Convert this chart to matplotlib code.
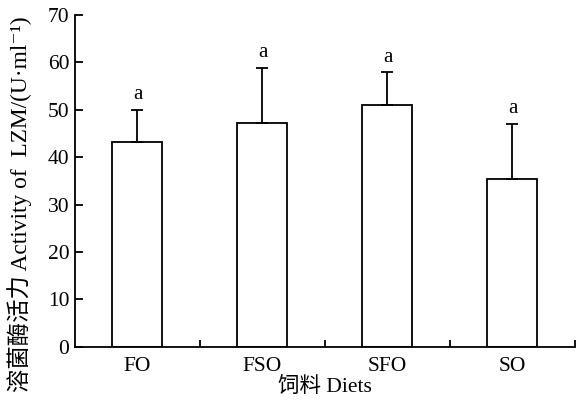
import matplotlib.pyplot as plt
import numpy as np

plt.rcParams['font.family'] = ['Liberation Serif', 'Noto Sans CJK SC', 'DejaVu Serif']

diets = ['FO', 'FSO', 'SFO', 'SO']
means = [43.2, 47.2, 51.0, 35.4]
errs = [6.8, 11.7, 6.9, 11.7]
letters = ['a', 'a', 'a', 'a']

fig = plt.figure(figsize=(5.79, 4.01), dpi=100)
ax = fig.add_axes([0.1295, 0.135, 0.8635, 0.8275])

x = np.arange(len(diets))
ax.bar(x, means, width=0.4, color='white', edgecolor='black', linewidth=1.3)
ax.errorbar(x, means, yerr=[np.zeros(len(errs)), errs], fmt='none', ecolor='black',
            elinewidth=1.3, capsize=4, capthick=1.3)
for xi, m, e, l in zip(x, means, errs, letters):
    ax.text(xi, m + e + 1.2, l, ha='center', va='bottom', fontsize=15)

ax.set_xlim(-0.5, 3.5)
ax.set_ylim(0, 70)
ax.set_yticks(range(0, 71, 10))
ax.set_xticks(x)
ax.set_xticklabels(diets, fontsize=15.5)
ax.set_xticks([0.5, 1.5, 2.5, 3.5], minor=True)
ax.tick_params(axis='x', which='major', length=0, pad=7)
ax.tick_params(axis='x', which='minor', direction='in', length=5, width=1.3)
ax.tick_params(axis='y', direction='in', length=6, width=1.3, labelsize=15.5, pad=4)
for s in ['top', 'right']:
    ax.spines[s].set_visible(False)
for s in ['left', 'bottom']:
    ax.spines[s].set_linewidth(1.3)

ax.set_xlabel('饲料 Diets', fontsize=15.5, labelpad=1)
ax.set_ylabel('溶菌酶活力 Activity of  LZM/(U·ml⁻¹)', fontsize=16.8)
ax.yaxis.set_label_coords(-0.086, 0.43)

fig.savefig('out.png', dpi=100)
